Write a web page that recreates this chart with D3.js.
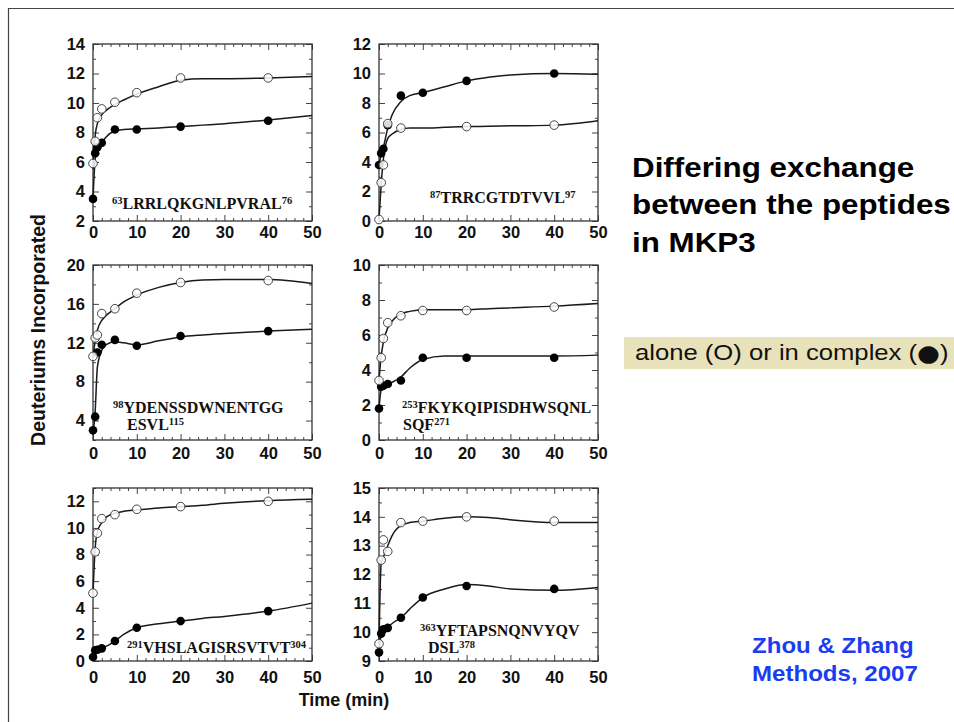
<!DOCTYPE html>
<html><head><meta charset="utf-8">
<script src="https://cdn.jsdelivr.net/npm/d3@7/dist/d3.min.js"></script>
<style>body{margin:0;background:#fff;} svg{display:block;}</style>
</head><body><svg id="c" width="954" height="722"></svg>
<script>
// ---------------- DATA ----------------
const times = [0, 0.5, 1, 2, 5, 10, 20, 40];
const fitTimes = [0, 0.5, 1, 2, 3, 5, 7, 10, 15, 20, 25, 30, 40, 50];
const xTickValues = [0, 10, 20, 30, 40, 50];

// Panel 1: 63LRRLQKGNLPVRAL76
const p1YDomain = [2, 14];
const p1YTicks = [2, 4, 6, 8, 10, 12, 14];
const p1Alone = [5.9, 7.4, 9.0, 9.6, 10.05, 10.7, 11.7, 11.7];
const p1Complex = [3.5, 6.6, 7.0, 7.3, 8.2, 8.2, 8.4, 8.8];
const p1AloneFit = [5.5, 7.8, 8.6, 9.2, 9.5, 9.9, 10.2, 10.6, 11.1, 11.55, 11.65, 11.65, 11.7, 11.8];
const p1ComplexFit = [3.5, 6.2, 6.9, 7.3, 7.7, 8.1, 8.2, 8.25, 8.3, 8.4, 8.5, 8.6, 8.85, 9.15];

// Panel 2: 87TRRCGTDTVVL97
const p2YDomain = [0, 12];
const p2YTicks = [0, 2, 4, 6, 8, 10, 12];
const p2Alone = [0.1, 2.6, 3.8, 6.6, 6.3, null, 6.4, 6.5];
const p2Complex = [3.8, 4.6, 4.9, 6.5, 8.5, 8.7, 9.5, 10.0];
const p2AloneFit = [0.1, 2.5, 4.2, 5.6, 5.9, 6.2, 6.3, 6.3, 6.35, 6.4, 6.42, 6.45, 6.5, 6.8];
const p2ComplexFit = [3.8, 4.5, 5.0, 6.3, 7.2, 8.1, 8.5, 8.7, 9.1, 9.5, 9.75, 9.9, 10.0, 9.95];

// Panel 3: 98YDENSSDWNENTGG ESVL115
const p3YDomain = [2, 20];
const p3YTicks = [4, 8, 12, 16, 20];
const p3Alone = [10.6, 12.5, 12.8, 15.0, 15.5, 17.1, 18.2, 18.4];
const p3Complex = [3.0, 4.4, 11.0, 11.8, 12.3, 11.7, 12.7, 13.2];
const p3AloneFit = [10.5, 12.2, 13.3, 14.3, 14.8, 15.5, 16.2, 16.9, 17.7, 18.2, 18.45, 18.5, 18.5, 18.1];
const p3ComplexFit = [2.5, 5.0, 9.5, 11.2, 11.8, 12.1, 12.0, 11.8, 12.2, 12.6, 12.8, 12.95, 13.2, 13.4];

// Panel 4: 253FKYKQIPISDHWSQNL SQF271
const p4YDomain = [0, 10];
const p4YTicks = [0, 2, 4, 6, 8, 10];
const p4Alone = [3.4, 4.7, 5.8, 6.7, 7.1, 7.4, 7.4, 7.6];
const p4Complex = [1.8, 3.05, 3.1, 3.2, 3.4, 4.7, 4.7, 4.7];
const p4AloneFit = [3.4, 4.8, 5.6, 6.4, 6.8, 7.2, 7.35, 7.45, 7.45, 7.45, 7.5, 7.55, 7.65, 7.8];
const p4ComplexFit = [1.8, 2.9, 3.1, 3.2, 3.3, 3.6, 4.1, 4.6, 4.8, 4.8, 4.8, 4.8, 4.8, 4.85];

// Panel 5: 291VHSLAGISRSVTVT304
const p5YDomain = [0, 13];
const p5YTicks = [0, 2, 4, 6, 8, 10, 12];
const p5Alone = [5.1, 8.2, 9.6, 10.7, 11.0, 11.4, 11.6, 12.0];
const p5Complex = [0.3, 0.8, 0.85, 0.95, 1.5, 2.5, 3.0, 3.75];
const p5AloneFit = [5.1, 8.5, 9.7, 10.4, 10.8, 11.1, 11.25, 11.35, 11.5, 11.6, 11.7, 11.85, 12.05, 12.15];
const p5ComplexFit = [0.3, 0.75, 0.85, 0.95, 1.1, 1.5, 2.0, 2.5, 2.8, 3.0, 3.2, 3.35, 3.75, 4.35];

// Panel 6: 363YFTAPSNQNVYQV DSL378
const p6YDomain = [9, 15];
const p6YTicks = [9, 10, 11, 12, 13, 14, 15];
const p6Alone = [9.6, 12.5, 13.2, 12.8, 13.8, 13.85, 14.0, 13.85];
const p6Complex = [9.3, 9.95, 10.1, 10.15, 10.5, 11.2, 11.6, 11.5];
const p6AloneFit = [9.6, 12.4, 12.6, 13.0, 13.35, 13.7, 13.8, 13.85, 13.95, 14.0, 13.98, 13.9, 13.8, 13.8];
const p6ComplexFit = [9.3, 9.9, 10.0, 10.15, 10.3, 10.5, 10.8, 11.2, 11.5, 11.65, 11.6, 11.5, 11.45, 11.55];

const peptideLabels = [
  [{pre: "63", main: "LRRLQKGNLPVRAL", post: "76"}],
  [{pre: "87", main: "TRRCGTDTVVL", post: "97"}],
  [{pre: "98", main: "YDENSSDWNENTGG", post: ""}, {pre: "", main: "ESVL", post: "115"}],
  [{pre: "253", main: "FKYKQIPISDHWSQNL", post: ""}, {pre: "", main: "SQF", post: "271"}],
  [{pre: "291", main: "VHSLAGISRSVTVT", post: "304"}],
  [{pre: "363", main: "YFTAPSNQNVYQV", post: ""}, {pre: "", main: "DSL", post: "378"}]
];

const yTitle = "Deuteriums Incorporated";
const xTitle = "Time (min)";
const headline = ["Differing exchange", "between the peptides", "in MKP3"];
const legendParts = ["alone (O) or in complex (", "\u25CF", ")"];
const citation = ["Zhou & Zhang", "Methods, 2007"];

// ---------------- LAYOUT ----------------
const panels = [
  {alone: p1Alone, complex: p1Complex, aloneFit: p1AloneFit, complexFit: p1ComplexFit, yDomain: p1YDomain, yTicks: p1YTicks},
  {alone: p2Alone, complex: p2Complex, aloneFit: p2AloneFit, complexFit: p2ComplexFit, yDomain: p2YDomain, yTicks: p2YTicks},
  {alone: p3Alone, complex: p3Complex, aloneFit: p3AloneFit, complexFit: p3ComplexFit, yDomain: p3YDomain, yTicks: p3YTicks},
  {alone: p4Alone, complex: p4Complex, aloneFit: p4AloneFit, complexFit: p4ComplexFit, yDomain: p4YDomain, yTicks: p4YTicks},
  {alone: p5Alone, complex: p5Complex, aloneFit: p5AloneFit, complexFit: p5ComplexFit, yDomain: p5YDomain, yTicks: p5YTicks},
  {alone: p6Alone, complex: p6Complex, aloneFit: p6AloneFit, complexFit: p6ComplexFit, yDomain: p6YDomain, yTicks: p6YTicks}
];
const cols = [[93, 312], [379, 598]];
const rows = [[44, 221], [265, 440], [488, 661]];
const xLabelPad = [5, 7, 10];
const labelPos = [
  [[112, 209]],
  [[430, 203]],
  [[113, 413], [127, 430]],
  [[402, 413], [403, 430]],
  [[127, 653]],
  [[420, 636], [428, 653]]
];

const SANS = "'Liberation Sans', Arial, Helvetica, sans-serif";
const SERIF = "'Liberation Serif', 'Times New Roman', Times, serif";
const svg = d3.select("#c");
svg.append("rect").attr("width", 954).attr("height", 722).attr("fill", "#fff");

// outer frame lines
svg.append("line").attr("x1", 8).attr("x2", 954).attr("y1", 8.5).attr("y2", 8.5).attr("stroke", "#444").attr("stroke-width", 1.2);
svg.append("line").attr("x1", 8.5).attr("x2", 8.5).attr("y1", 8).attr("y2", 722).attr("stroke", "#444").attr("stroke-width", 1.2);

panels.forEach((p, i) => {
  const [x0, x1] = cols[i % 2];
  const r = Math.floor(i / 2);
  const [y0, y1] = rows[r];
  const x = d3.scaleLinear().domain([0, 50]).range([x0, x1]);
  const y = d3.scaleLinear().domain(p.yDomain).range([y1, y0]);
  const g = svg.append("g");

  const step = p.yTicks[1] - p.yTicks[0];
  const yMinor = d3.range(p.yDomain[0], p.yDomain[1] + 1e-9, step / 2).filter(v => !p.yTicks.some(t => Math.abs(t - v) < 1e-9));
  const xMinor = d3.range(0, 50.001, 2).filter(v => v % 10 !== 0);

  const style = sel => {
    sel.select(".domain").remove();
    sel.selectAll("line").attr("stroke", "#444").attr("stroke-width", 1);
    sel.selectAll("text").attr("font-family", SANS).attr("font-weight", "bold").attr("font-size", 16.5).attr("fill", "#111");
  };
  g.append("g").attr("transform", `translate(${x0},0)`).call(d3.axisLeft(y).tickValues(p.yTicks).tickSize(-6).tickPadding(8).tickFormat(d3.format("d"))).call(style);
  g.append("g").attr("transform", `translate(${x1},0)`).call(d3.axisRight(y).tickValues(p.yTicks).tickSize(-6).tickFormat("")).call(style);
  g.append("g").attr("transform", `translate(0,${y1})`).call(d3.axisBottom(x).tickValues(xTickValues).tickSize(-6).tickPadding(xLabelPad[r]).tickFormat(d3.format("d"))).call(style);
  g.append("g").attr("transform", `translate(0,${y0})`).call(d3.axisTop(x).tickValues(xTickValues).tickSize(-6).tickFormat("")).call(style);
  g.append("g").attr("transform", `translate(${x0},0)`).call(d3.axisLeft(y).tickValues(yMinor).tickSize(-3).tickFormat("")).call(style);
  g.append("g").attr("transform", `translate(${x1},0)`).call(d3.axisRight(y).tickValues(yMinor).tickSize(-3).tickFormat("")).call(style);
  g.append("g").attr("transform", `translate(0,${y1})`).call(d3.axisBottom(x).tickValues(xMinor).tickSize(-3).tickFormat("")).call(style);
  g.append("g").attr("transform", `translate(0,${y0})`).call(d3.axisTop(x).tickValues(xMinor).tickSize(-3).tickFormat("")).call(style);

  g.append("rect").attr("x", x0).attr("y", y0).attr("width", x1 - x0).attr("height", y1 - y0)
    .attr("fill", "none").attr("stroke", "#333").attr("stroke-width", 1.3);

  const line = d3.line().x(d => x(d[0])).y(d => y(d[1])).curve(d3.curveMonotoneX);
  [p.aloneFit, p.complexFit].forEach(arr => {
    g.append("path").attr("d", line(fitTimes.map((t, k) => [t, arr[k]])))
      .attr("fill", "none").attr("stroke", "#1a1a1a").attr("stroke-width", 1.5);
  });

  const cpts = times.map((t, k) => [t, p.complex[k]]).filter(d => d[1] != null);
  const apts = times.map((t, k) => [t, p.alone[k]]).filter(d => d[1] != null);
  g.selectAll(".cp").data(cpts).join("circle").attr("cx", d => x(d[0])).attr("cy", d => y(d[1])).attr("r", 4.3).attr("fill", "#000");
  g.selectAll(".ap").data(apts).join("circle").attr("cx", d => x(d[0])).attr("cy", d => y(d[1])).attr("r", 4.3)
    .attr("fill", "#fff").attr("fill-opacity", 0.85).attr("stroke", "#444").attr("stroke-width", 1);

  peptideLabels[i].forEach((ln, li) => {
    const [lx, ly] = labelPos[i][li];
    const t = g.append("text").attr("transform", `translate(${lx},${ly})`)
      .attr("font-family", SERIF).attr("font-weight", "bold").attr("fill", "#111");
    if (ln.pre) t.append("tspan").attr("font-size", 10.5).attr("dy", -5.5).text(ln.pre);
    t.append("tspan").attr("font-size", 16).attr("dy", ln.pre ? 5.5 : 0).text(ln.main);
    if (ln.post) t.append("tspan").attr("font-size", 10.5).attr("dy", -5.5).text(ln.post);
  });
});

svg.append("text").attr("transform", "translate(45,330) rotate(-90)").attr("text-anchor", "middle")
  .attr("font-family", SANS).attr("font-weight", "bold").attr("font-size", 19.5).attr("fill", "#111").text(yTitle);
svg.append("text").attr("x", 344).attr("y", 706).attr("text-anchor", "middle")
  .attr("font-family", SANS).attr("font-weight", "bold").attr("font-size", 18).attr("fill", "#111").text(xTitle);

headline.forEach((s, k) => {
  svg.append("text").attr("transform", `translate(632,${[177, 214, 252][k]}) scale(1.12,1)`)
    .attr("font-family", SANS).attr("font-weight", "bold").attr("font-size", 28).attr("fill", "#000").text(s);
});

svg.append("rect").attr("x", 624).attr("y", 337).attr("width", 340).attr("height", 32).attr("fill", "#e8e2ba");
const lt = svg.append("text").attr("transform", "translate(635,360) scale(1.14,1)")
  .attr("font-family", SANS).attr("font-size", 22.5).attr("fill", "#111");
lt.append("tspan").text(legendParts[0]);
lt.append("tspan").attr("font-family", "'DejaVu Sans', sans-serif").attr("font-size", 23).attr("dy", 1).text(legendParts[1]);
lt.append("tspan").attr("dy", -1).text(legendParts[2]);

citation.forEach((s, k) => {
  svg.append("text").attr("transform", `translate(752,${[653, 681][k]}) scale(1.12,1)`)
    .attr("font-family", SANS).attr("font-weight", "bold").attr("font-size", 21.5).attr("fill", "#1a3cf2").text(s);
});
</script></body></html>
